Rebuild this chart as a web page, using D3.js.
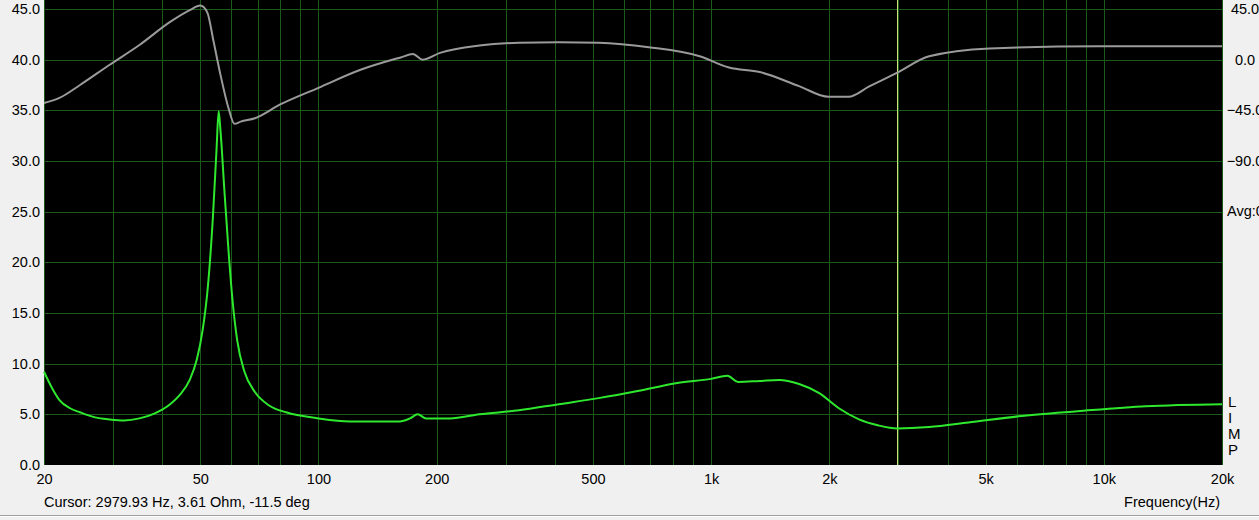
<!DOCTYPE html>
<html><head><meta charset="utf-8">
<script src="https://cdn.jsdelivr.net/npm/d3@7"></script>
<style>
html,body{margin:0;padding:0;background:#f0f0f0;overflow:hidden;}
svg{display:block;font-family:"Liberation Sans",Arial,sans-serif;}
</style></head>
<body><svg id="c" width="1259" height="520"></svg>
<script>
// Impedance (Ohm) vs frequency (Hz)
const impFreq = [20,20.96,21.9,23.3,24.7,27.0,29.4,32.0,35.0,38.3,41.9,44.3,47.0,49.0,50.7,52.2,53.8,55.0,55.7,56.3,57.6,59.0,60.4,62.1,64.8,68.9,74.7,82.7,100,120,161,171,179,188,216,257,324,409,517,650,820,1000,1100,1170,1330,1490,1675,1885,2115,2380,2670,2980,3590,4520,6050,8570,12800,20000];
const impOhm  = [9.2,7.6,6.4,5.6,5.2,4.7,4.5,4.4,4.6,5.1,6.0,6.9,8.4,10.4,13.3,17.3,24.2,31.1,34.9,33.0,27.1,21.2,16.3,12.3,9.2,7.2,5.9,5.2,4.6,4.3,4.3,4.6,5.0,4.6,4.6,5.0,5.4,6.0,6.6,7.3,8.1,8.5,8.8,8.2,8.3,8.4,8.0,7.1,5.6,4.5,3.9,3.61,3.75,4.2,4.8,5.3,5.8,6.0];
// Phase (deg) vs frequency (Hz)
const phFreq = [20,21.9,24.7,29.4,35.0,41.9,47.0,50.0,52.1,54.0,56.3,59.0,61.1,63.4,68.9,79.7,100,128,162,174,184,204,257,324,409,517,694,935,1110,1330,1675,1990,2240,2520,2980,3590,5120,9760,20000];
const phDeg  = [-38.5,-34,-22.5,-4.5,13,33.5,44,48,42,17,-13.5,-43,-57,-55,-52,-40,-25,-9,2,5,0,6,12.5,15,15.5,15,11,3,-7,-11,-23.5,-33,-33,-24,-11.5,3,10,12,12];
const leftTicks = [0,5,10,15,20,25,30,35,40,45];
const phaseTicks = [45,0,-45,-90];
const xTickVals = [20,50,100,200,500,1000,2000,5000,10000,20000];
const xTickText = ["20","50","100","200","500","1k","2k","5k","10k","20k"];
const cursorFreq = 2979.93;
const cursorText = "Cursor: 2979.93 Hz, 3.61 Ohm, -11.5 deg";

const FS=14.5;
const L=44,R=1222,T=0,B=465;
const svg=d3.select("#c");
const x=d3.scaleLog().domain([20,20000]).range([L,R]);
const y=d3.scaleLinear().domain([0,45]).range([B,9]);
const yp=d3.scaleLinear().domain([-360,45]).range([B,9]);

svg.append("rect").attr("x",L).attr("y",T).attr("width",R-L).attr("height",B-T).attr("fill","#000");

// vertical grid
const vg=[];
[10,100,1000,10000].forEach(d=>{for(let m=1;m<10;m++){const v=d*m; if(v>=20&&v<=20000) vg.push(v);}});
vg.push(20000);
const GC="#1b5a1b";
svg.append("g").selectAll("line").data(vg).join("line")
  .attr("x1",d=>Math.round(x(d))+0.5).attr("x2",d=>Math.round(x(d))+0.5)
  .attr("y1",T).attr("y2",B).attr("stroke",GC).attr("stroke-width",1);
svg.append("g").selectAll("line").data(leftTicks.slice(1)).join("line")
  .attr("x1",L).attr("x2",R).attr("y1",d=>Math.round(y(d))+0.5).attr("y2",d=>Math.round(y(d))+0.5)
  .attr("stroke",GC).attr("stroke-width",1);

// cursor
svg.append("line").attr("x1",Math.round(x(cursorFreq))+0.5).attr("x2",Math.round(x(cursorFreq))+0.5)
  .attr("y1",T).attr("y2",B).attr("stroke","#d2e27a").attr("stroke-width",1);

// phase curve
svg.append("path").datum(d3.zip(phFreq,phDeg))
  .attr("d",d3.line().x(d=>x(d[0])).y(d=>yp(d[1])).curve(d3.curveMonotoneX))
  .attr("fill","none").attr("stroke","#9a9a9a").attr("stroke-width",2);
// impedance curve
svg.append("path").datum(d3.zip(impFreq,impOhm))
  .attr("d",d3.line().x(d=>x(d[0])).y(d=>y(d[1])).curve(d3.curveMonotoneX))
  .attr("fill","none").attr("stroke","#2ee82e").attr("stroke-width",2);

// left axis labels
const yAxis=d3.axisLeft(y).tickValues(leftTicks).tickFormat(d3.format(".1f")).tickSize(0).tickPadding(4);
const ga=svg.append("g").attr("transform",`translate(${L},0)`).call(yAxis);
ga.select(".domain").remove();
ga.selectAll("text").attr("font-size",FS).attr("fill","#000").attr("font-family","Liberation Sans, Arial, sans-serif");

// right phase axis labels
const pAxis=d3.axisRight(yp).tickValues(phaseTicks).tickFormat(d3.format(".1f")).tickSize(0).tickPadding(0);
const gp=svg.append("g").attr("transform",`translate(1245,0)`).call(pAxis);
gp.select(".domain").remove();
gp.selectAll("text").attr("text-anchor","middle").attr("font-size",FS).attr("fill","#000").attr("font-family","Liberation Sans, Arial, sans-serif");
svg.append("text").attr("x",1227).attr("y",yp(-135)).attr("dy","0.32em").attr("font-size",FS).text("Avg:0.0");

// LIMP
["L","I","M","P"].forEach((c,i)=>svg.append("text").attr("x",1228).attr("y",402+i*16).attr("dy","0.35em").attr("font-size",15).text(c));

// bottom axis labels
const xAxis=d3.axisBottom(x).tickValues(xTickVals).tickFormat((d,i)=>xTickText[i]).tickSize(0).tickPadding(9);
const gx=svg.append("g").attr("transform",`translate(0,${B})`).call(xAxis);
gx.select(".domain").remove();
gx.selectAll("text").attr("font-size",FS).attr("fill","#000").attr("font-family","Liberation Sans, Arial, sans-serif");

svg.append("text").attr("x",44).attr("y",502).attr("dy","0.35em").attr("font-size",FS).text(cursorText);
svg.append("text").attr("x",1220).attr("y",502).attr("dy","0.35em").attr("text-anchor","end").attr("font-size",FS).text("Frequency(Hz)");

svg.append("line").attr("x1",0).attr("x2",1259).attr("y1",515.5).attr("y2",515.5).attr("stroke","#a0a0a0");
svg.append("line").attr("x1",0).attr("x2",1259).attr("y1",516.5).attr("y2",516.5).attr("stroke","#ffffff");
</script></body></html>
